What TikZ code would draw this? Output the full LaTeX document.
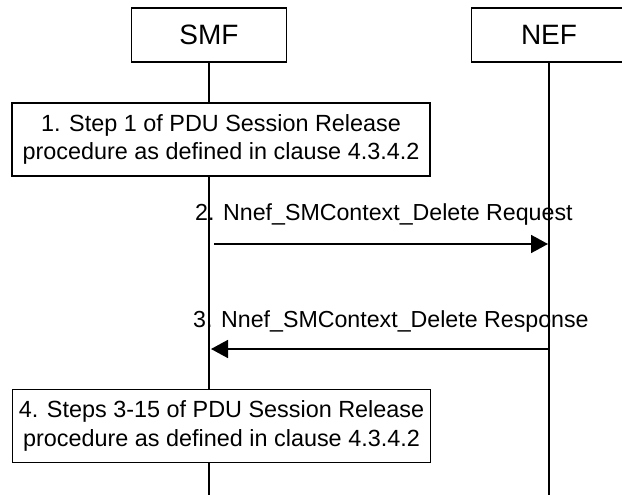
\documentclass[tikz,border=0pt]{standalone}
\usepackage{fontspec}
\setmainfont{Liberation Sans}
\usetikzlibrary{arrows.meta}
\tikzset{
  ent/.style={draw,line width=1.7pt,fill=white,minimum width=155pt,minimum height=54pt,inner sep=0pt,font=\fontsize{28}{33}\selectfont},
  stepbox/.style={draw,line width=1.7pt,fill=white,minimum width=418pt,minimum height=73pt,inner sep=0pt,align=center,font=\fontsize{23.4}{28.5}\selectfont},
  msg/.style={font=\fontsize{23.2}{28}\selectfont,anchor=base west,inner sep=0pt},
  life/.style={line width=1.7pt},
  sig/.style={line width=1.7pt,-{Triangle[length=17pt,width=18pt]}},
}

\begin{document}
\begin{tikzpicture}[x=1pt,y=-1pt]
  \useasboundingbox (0,0) rectangle (622,495);
  \coordinate (smfend) at (209,495);
  \coordinate (nefend) at (549,495);
  \node[ent] (smf) at (209,35) {SMF};
  \node[ent] (nef) at (549,35) {NEF};
  \draw[life] (smf) -- (smfend);
  \draw[life] (nef) -- (nefend);
  \node[stepbox] (s1) at (221,139.5) {1. Step 1 of PDU Session Release\\procedure as defined in clause 4.3.4.2};
  \node[stepbox] (s4) at (221.5,426) {4. Steps 3-15 of PDU Session Release\\procedure as defined in clause 4.3.4.2};
  % messages
  \coordinate (req0) at (214,244);
  \coordinate (req1) at (548,244);
  \coordinate (rsp0) at (549,349);
  \coordinate (rsp1) at (211,349);
  \draw[sig] (req0) -- (req1);
  \draw[sig] (rsp0) -- (rsp1);
  \node[msg] (lreq) at (195,220) {2. Nnef\_SMContext\_Delete Request};
  \node[msg] (lrsp) at (193,327) {3. Nnef\_SMContext\_Delete Response};
\end{tikzpicture}
\end{document}
